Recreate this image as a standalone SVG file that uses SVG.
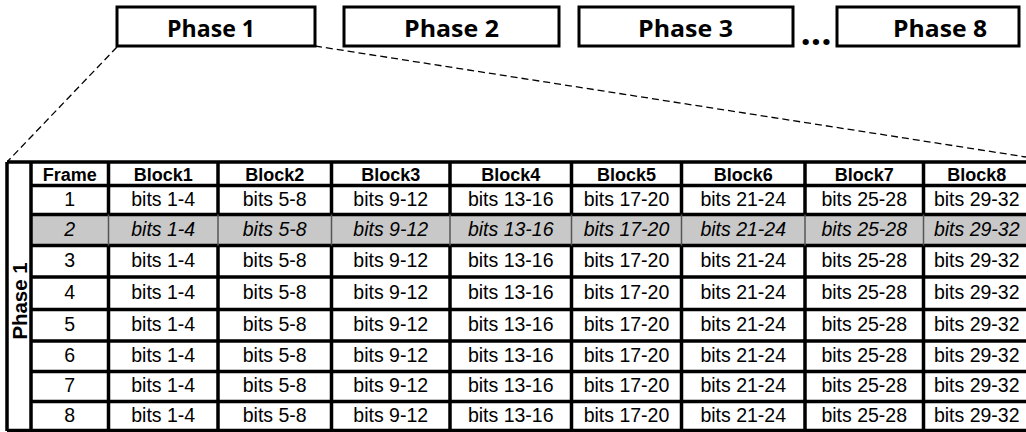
<svg xmlns="http://www.w3.org/2000/svg" width="1026" height="432" viewBox="0 0 1026 432">
  <style>
    .box { fill: #fff; stroke: #000; stroke-width: 3; }
    .title { font-family: "Open Sans", "Noto Sans", sans-serif; font-weight: bold; font-size: 24px; fill: #000; text-anchor: middle; }
    .dash { fill: none; stroke: #000; stroke-width: 1.3; stroke-dasharray: 7 4; }
    .grid { fill: none; stroke: #000; stroke-width: 3.5; }
    .thin { fill: none; stroke: #555; stroke-width: 1.5; }
    .hd { font-family: "Liberation Sans", Arial, sans-serif; font-weight: bold; font-size: 18px; fill: #000; text-anchor: middle; }
    .cell { font-family: "Liberation Sans", Arial, sans-serif; font-size: 19.5px; fill: #000; text-anchor: middle; }
    .it { font-style: italic; }
  </style>

  <!-- zoom-in connectors from Phase 1 to its detail table -->
  <g id="connectors">
    <line class="dash" x1="117" y1="47" x2="8" y2="161"/>
    <line class="dash" x1="315" y1="46" x2="1026" y2="157"/>
  </g>

  <!-- phase boxes -->
  <g id="phase1">
    <rect class="box" x="117" y="7" width="198" height="39"/>
    <text class="title" x="211" y="37" textLength="88" lengthAdjust="spacingAndGlyphs">Phase 1</text>
  </g>
  <g id="phase2">
    <rect class="box" x="344" y="7" width="215" height="39"/>
    <text class="title" x="451.5" y="37" textLength="95" lengthAdjust="spacingAndGlyphs">Phase 2</text>
  </g>
  <g id="phase3">
    <rect class="box" x="579" y="7" width="214" height="39"/>
    <text class="title" x="685.5" y="37" textLength="95" lengthAdjust="spacingAndGlyphs">Phase 3</text>
  </g>
  <g id="ellipsis">
    <text class="title" x="816" y="45" style="font-size:36px" textLength="31" lengthAdjust="spacingAndGlyphs">...</text>
  </g>
  <g id="phase8">
    <rect class="box" x="837" y="7" width="182" height="39"/>
    <text class="title" x="940" y="37" textLength="94" lengthAdjust="spacingAndGlyphs">Phase 8</text>
  </g>

  <!-- detail table for Phase 1 -->
  <g id="phase1-table">
    <rect x="7" y="162" width="1030" height="268.5" fill="#fff"/>
    <rect x="31" y="214.5" width="1000" height="31" fill="#c8c8c8"/>

    <!-- horizontal rules -->
    <path class="grid" d="M7 162 H1030 M31 185.5 H1030 M31 214.5 H1030 M31 245.5 H1030 M31 277 H1030 M31 309.5 H1030 M31 341 H1030 M31 371.5 H1030 M31 401.5 H1030 M7 430.5 H1030"/>
    <!-- vertical rules (broken across the highlighted row) -->
    <path class="grid" d="M7 162 V431 M31 162 V431
      M108.5 162 V214.5 M108.5 245.5 V431
      M218 162 V214.5 M218 245.5 V431
      M331.5 162 V214.5 M331.5 245.5 V431
      M450 162 V214.5 M450 245.5 V431
      M571.5 162 V214.5 M571.5 245.5 V431
      M681.5 162 V214.5 M681.5 245.5 V431
      M805 162 V214.5 M805 245.5 V431
      M923.5 162 V214.5 M923.5 245.5 V431"/>
    <path class="thin" d="M108.5 214.5 V245.5 M218 214.5 V245.5 M331.5 214.5 V245.5 M450 214.5 V245.5 M571.5 214.5 V245.5 M681.5 214.5 V245.5 M805 214.5 V245.5 M923.5 214.5 V245.5"/>

    <text class="hd" transform="translate(27,301) rotate(-90)" x="0" y="0" style="font-size:20px" textLength="77" lengthAdjust="spacingAndGlyphs">Phase 1</text>

    <!-- header -->
    <g class="hd">
      <text x="69.75" y="180.5">Frame</text>
      <text x="163.25" y="180.5">Block1</text>
      <text x="274.75" y="180.5">Block2</text>
      <text x="390.75" y="180.5">Block3</text>
      <text x="510.75" y="180.5">Block4</text>
      <text x="626.5" y="180.5">Block5</text>
      <text x="743.25" y="180.5">Block6</text>
      <text x="864.25" y="180.5">Block7</text>
      <text x="976.75" y="180.5">Block8</text>
    </g>

    <!-- row 1 -->
    <g class="cell">
      <text x="69.75" y="205.5">1</text><text x="163.25" y="205.5">bits 1-4</text><text x="274.75" y="205.5">bits 5-8</text><text x="390.75" y="205.5">bits 9-12</text><text x="510.75" y="205.5">bits 13-16</text><text x="626.5" y="205.5">bits 17-20</text><text x="743.25" y="205.5">bits 21-24</text><text x="864.25" y="205.5">bits 25-28</text><text x="976.75" y="205.5">bits 29-32</text>
    </g>
    <!-- row 2 (highlighted) -->
    <g class="cell it">
      <text x="69.75" y="236">2</text><text x="163.25" y="236">bits 1-4</text><text x="274.75" y="236">bits 5-8</text><text x="390.75" y="236">bits 9-12</text><text x="510.75" y="236">bits 13-16</text><text x="626.5" y="236">bits 17-20</text><text x="743.25" y="236">bits 21-24</text><text x="864.25" y="236">bits 25-28</text><text x="976.75" y="236">bits 29-32</text>
    </g>
    <!-- row 3 -->
    <g class="cell">
      <text x="69.75" y="267">3</text><text x="163.25" y="267">bits 1-4</text><text x="274.75" y="267">bits 5-8</text><text x="390.75" y="267">bits 9-12</text><text x="510.75" y="267">bits 13-16</text><text x="626.5" y="267">bits 17-20</text><text x="743.25" y="267">bits 21-24</text><text x="864.25" y="267">bits 25-28</text><text x="976.75" y="267">bits 29-32</text>
    </g>
    <!-- row 4 -->
    <g class="cell">
      <text x="69.75" y="299">4</text><text x="163.25" y="299">bits 1-4</text><text x="274.75" y="299">bits 5-8</text><text x="390.75" y="299">bits 9-12</text><text x="510.75" y="299">bits 13-16</text><text x="626.5" y="299">bits 17-20</text><text x="743.25" y="299">bits 21-24</text><text x="864.25" y="299">bits 25-28</text><text x="976.75" y="299">bits 29-32</text>
    </g>
    <!-- row 5 -->
    <g class="cell">
      <text x="69.75" y="331">5</text><text x="163.25" y="331">bits 1-4</text><text x="274.75" y="331">bits 5-8</text><text x="390.75" y="331">bits 9-12</text><text x="510.75" y="331">bits 13-16</text><text x="626.5" y="331">bits 17-20</text><text x="743.25" y="331">bits 21-24</text><text x="864.25" y="331">bits 25-28</text><text x="976.75" y="331">bits 29-32</text>
    </g>
    <!-- row 6 -->
    <g class="cell">
      <text x="69.75" y="362">6</text><text x="163.25" y="362">bits 1-4</text><text x="274.75" y="362">bits 5-8</text><text x="390.75" y="362">bits 9-12</text><text x="510.75" y="362">bits 13-16</text><text x="626.5" y="362">bits 17-20</text><text x="743.25" y="362">bits 21-24</text><text x="864.25" y="362">bits 25-28</text><text x="976.75" y="362">bits 29-32</text>
    </g>
    <!-- row 7 -->
    <g class="cell">
      <text x="69.75" y="392">7</text><text x="163.25" y="392">bits 1-4</text><text x="274.75" y="392">bits 5-8</text><text x="390.75" y="392">bits 9-12</text><text x="510.75" y="392">bits 13-16</text><text x="626.5" y="392">bits 17-20</text><text x="743.25" y="392">bits 21-24</text><text x="864.25" y="392">bits 25-28</text><text x="976.75" y="392">bits 29-32</text>
    </g>
    <!-- row 8 -->
    <g class="cell">
      <text x="69.75" y="421.5">8</text><text x="163.25" y="421.5">bits 1-4</text><text x="274.75" y="421.5">bits 5-8</text><text x="390.75" y="421.5">bits 9-12</text><text x="510.75" y="421.5">bits 13-16</text><text x="626.5" y="421.5">bits 17-20</text><text x="743.25" y="421.5">bits 21-24</text><text x="864.25" y="421.5">bits 25-28</text><text x="976.75" y="421.5">bits 29-32</text>
    </g>
  </g>
</svg>
